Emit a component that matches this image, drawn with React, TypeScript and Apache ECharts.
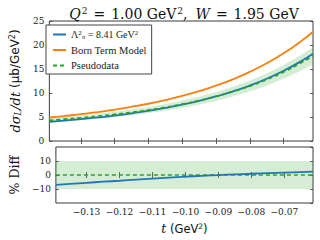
import React, { useEffect, useRef } from "react";
import * as echarts from "echarts";

const tValues = [-0.1393, -0.135, -0.13, -0.125, -0.12, -0.115, -0.11, -0.105, -0.1, -0.095, -0.09, -0.085, -0.08, -0.075, -0.07, -0.065, -0.0613];
const modelFit = [4.0, 4.24, 4.55, 4.9, 5.3, 5.76, 6.28, 6.88, 7.57, 8.36, 9.28, 10.33, 11.55, 12.97, 14.63, 16.56, 18.2];
const bornTerm = [4.9, 5.2, 5.58, 6.03, 6.53, 7.11, 7.76, 8.52, 9.38, 10.37, 11.52, 12.85, 14.39, 16.18, 18.26, 20.7, 22.77];
const pseudodata = [4.31, 4.53, 4.82, 5.15, 5.53, 5.96, 6.45, 7.01, 7.66, 8.41, 9.28, 10.28, 11.45, 12.8, 14.39, 16.22, 17.77];
const bandLow = [3.88, 4.08, 4.34, 4.64, 4.98, 5.36, 5.81, 6.31, 6.89, 7.57, 8.35, 9.25, 10.31, 11.52, 12.95, 14.6, 15.99];
const bandHigh = [4.74, 4.98, 5.3, 5.67, 6.08, 6.56, 7.1, 7.71, 8.43, 9.25, 10.21, 11.31, 12.6, 14.08, 15.83, 17.84, 19.55];
const pctDiff = [-7.1, -6.4, -5.6, -4.8, -4.1, -3.3, -2.6, -1.9, -1.2, -0.6, -0.05, 0.45, 0.9, 1.3, 1.7, 2.1, 2.4];
const diffBand = [-10, 10];
const xTicks = [-0.13, -0.12, -0.11, -0.1, -0.09, -0.08, -0.07];
const xMin = -0.1393;
const xMax = -0.0613;

const BLUE = "#1f77b4";
const ORANGE = "#ff7f0e";
const GREEN = "#2ca02c";
const BAND = "rgba(44,160,44,0.2)";
const FRAME = "#3a3a3a";
const SERIF = "DejaVu Serif";
const TSERIF = "Liberation Serif";
const SANS = "DejaVu Sans";

const pairs = (ys: number[]) => tValues.map((t, i) => [t, ys[i]]);

export default function App() {
  const ref = useRef<HTMLDivElement>(null);
  useEffect(() => {
    if (!ref.current) return;
    const chart = echarts.init(ref.current, undefined, { renderer: "svg" });
    const tickStyle = { inside: true, length: 3, lineStyle: { color: FRAME, width: 0.8 } };
    const labelStyle = { fontFamily: SERIF, fontSize: 9, color: "#222" };
    const fmtMinus = (v: number) => {
      const s = Math.abs(v) < 1e-9 ? "0" : String(v);
      return s.replace("-", "\u2212");
    };
    const fmtX = (v: number) => {
      const s = Math.abs(v).toFixed(2);
      return (v < 0 ? "\u2212" : "") + s;
    };
    const xBase = (gridIndex: number, position: string, showLabels: boolean, extra: any = {}) => ({
      type: "value",
      gridIndex,
      position,
      min: xMin,
      max: xMax,
      axisLine: { show: false },
      splitLine: { show: false },
      axisTick: { ...tickStyle, customValues: xTicks },
      axisLabel: showLabels
        ? { ...labelStyle, margin: 4, customValues: xTicks, formatter: fmtX }
        : { show: false, customValues: xTicks },
      ...extra,
    });
    const titleBase = { fontFamily: SERIF, fontWeight: "normal", fontSize: 14, color: "#111" };
    const option: any = {
      animation: false,
      backgroundColor: "#fff",
      title: {
        text: "{i|Q}{sup|2}{eq|=}{n|1.00 GeV}{sup|2}{c|,}{i|W}{eq|=}{n|1.95 GeV}",
        left: 179,
        top: 1,
        textAlign: "center",
        textStyle: {
          fontWeight: "normal",
          rich: {
            i: { ...titleBase, fontStyle: "italic" },
            n: titleBase,
            eq: { ...titleBase, padding: [0, 6, 0, 6] },
            c: { ...titleBase, padding: [0, 8, 0, 0] },
            sup: { ...titleBase, fontSize: 9, verticalAlign: "top", padding: [0, 0, 6, 1] },
          },
        },
      },
      legend: {
        data: ["fit", "Born Term Model", "Pseudodata"],
        orient: "vertical",
        left: 46,
        top: 25,
        itemWidth: 13,
        itemHeight: 8,
        itemGap: 4.5,
        borderColor: "#444",
        borderWidth: 1,
        borderRadius: 0,
        padding: [4, 5, 3, 6],
        backgroundColor: "#fff",
        itemStyle: { opacity: 0 },
        textStyle: {
          fontFamily: TSERIF,
          fontSize: 10.5,
          color: "#222",
          rich: {
            n: { fontFamily: TSERIF, fontSize: 10, color: "#222" },
            sup: { fontFamily: TSERIF, fontSize: 7, color: "#222", verticalAlign: "top", padding: [0, 0, 4, 0] },
            sub: { fontFamily: TSERIF, fontStyle: "italic", fontSize: 7, color: "#222", verticalAlign: "bottom", padding: [4, 0, 0, 0] },
          },
        },
        formatter: (name: string) =>
          name === "fit" ? "{n|\u039b}{sup|2}{sub|\u03c0}{n| = 8.41 GeV}{sup|2}" : name,
      },
      grid: [
        { left: 45, top: 21, width: 268, height: 120, show: true, borderColor: FRAME, borderWidth: 1, backgroundColor: "transparent" },
        { left: 45, top: 147, width: 268, height: 56, show: true, borderColor: FRAME, borderWidth: 1, backgroundColor: "transparent" },
      ],
      xAxis: [
        xBase(0, "bottom", false),
        xBase(0, "top", false),
        xBase(1, "bottom", true, {
          name: "{i|t}{s| (GeV}{sup|2}{s|)}",
          nameLocation: "middle",
          nameGap: 19,
          nameTextStyle: {
            rich: {
              i: { fontFamily: SERIF, fontStyle: "italic", fontSize: 12.5, color: "#111" },
              s: { fontFamily: SANS, fontSize: 11.5, color: "#111" },
              sup: { fontFamily: SANS, fontSize: 7.5, color: "#111", verticalAlign: "top", padding: [0, 0, 5, 0] },
            },
          },
        }),
        xBase(1, "top", false),
      ],
      yAxis: [
        {
          type: "value",
          gridIndex: 0,
          position: "left",
          min: 0,
          max: 25,
          interval: 5,
          axisLine: { show: false },
          splitLine: { show: false },
          axisTick: tickStyle,
          axisLabel: { ...labelStyle, margin: 5 },
          name: "{i|d\u03c3}{sub|L}{i|/dt}{s| (\u03bcb/GeV}{sup|2}{s|)}",
          nameLocation: "middle",
          nameRotate: 90,
          nameGap: 24,
          nameTextStyle: {
            rich: {
              i: { fontFamily: SERIF, fontStyle: "italic", fontSize: 13, color: "#111" },
              s: { fontFamily: SANS, fontSize: 12, color: "#111" },
              sub: { fontFamily: SERIF, fontStyle: "italic", fontSize: 8.5, color: "#111", verticalAlign: "bottom", padding: [5, 0, 0, 0] },
              sup: { fontFamily: SANS, fontSize: 8, color: "#111", verticalAlign: "top", padding: [0, 0, 5, 0] },
            },
          },
        },
        {
          type: "value",
          gridIndex: 0,
          position: "right",
          min: 0,
          max: 25,
          interval: 5,
          axisLine: { show: false },
          splitLine: { show: false },
          axisTick: tickStyle,
          axisLabel: { show: false },
        },
        {
          type: "value",
          gridIndex: 1,
          position: "left",
          min: -20,
          max: 20,
          interval: 10,
          axisLine: { show: false },
          splitLine: { show: false },
          axisTick: tickStyle,
          axisLabel: { ...labelStyle, margin: 5, showMinLabel: false, showMaxLabel: false, formatter: fmtMinus },
          name: "% Diff",
          nameLocation: "middle",
          nameRotate: 90,
          nameGap: 26,
          nameTextStyle: { fontFamily: SERIF, fontSize: 12.5, color: "#111" },
        },
        {
          type: "value",
          gridIndex: 1,
          position: "right",
          min: -20,
          max: 20,
          interval: 10,
          axisLine: { show: false },
          splitLine: { show: false },
          axisTick: tickStyle,
          axisLabel: { show: false },
        },
      ],
      series: [
        {
          name: "__band",
          type: "custom",
          xAxisIndex: 0,
          yAxisIndex: 0,
          data: [[tValues[0], bandLow[0]]],
          silent: true,
          z: 1,
          renderItem: (_params: any, api: any) => {
            const upper = tValues.map((t, i) => api.coord([t, bandHigh[i]]));
            const lower = tValues.map((t, i) => api.coord([t, bandLow[i]])).reverse();
            return {
              type: "polygon",
              shape: { points: upper.concat(lower) },
              style: { fill: BAND, stroke: "none" },
            };
          },
        },
        {
          name: "Born Term Model",
          type: "line",
          xAxisIndex: 0,
          yAxisIndex: 0,
          data: pairs(bornTerm),
          symbol: "none",
          smooth: true,
          color: ORANGE,
          lineStyle: { color: ORANGE, width: 1.8 },
          z: 3,
        },
        {
          name: "fit",
          type: "line",
          xAxisIndex: 0,
          yAxisIndex: 0,
          data: pairs(modelFit),
          symbol: "none",
          smooth: true,
          color: BLUE,
          lineStyle: { color: BLUE, width: 1.8 },
          z: 3,
        },
        {
          name: "Pseudodata",
          type: "line",
          xAxisIndex: 0,
          yAxisIndex: 0,
          data: pairs(pseudodata),
          symbol: "none",
          smooth: true,
          color: GREEN,
          lineStyle: { color: GREEN, width: 1.8, type: [4, 3] },
          z: 4,
        },
        {
          name: "__diffZero",
          type: "line",
          xAxisIndex: 2,
          yAxisIndex: 2,
          data: [[xMin, 0], [xMax, 0]],
          symbol: "none",
          color: GREEN,
          lineStyle: { color: GREEN, width: 1.5, type: [4, 3] },
          markArea: {
            silent: true,
            itemStyle: { color: BAND },
            data: [[{ yAxis: diffBand[0] }, { yAxis: diffBand[1] }]],
          },
          z: 2,
        },
        {
          name: "__diffFit",
          type: "line",
          xAxisIndex: 2,
          yAxisIndex: 2,
          data: pairs(pctDiff),
          symbol: "none",
          smooth: true,
          color: BLUE,
          lineStyle: { color: BLUE, width: 1.8 },
          z: 3,
        },
      ],
    };
    chart.setOption(option);
    return () => chart.dispose();
  }, []);
  return <div ref={ref} style={{ width: 320, height: 240, position: "absolute", left: 0, top: 0 }} />;
}
